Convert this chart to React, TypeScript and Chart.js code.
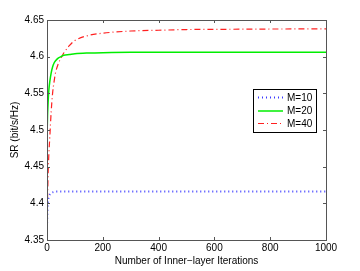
import React, { useEffect, useRef } from "react";
import { Chart, registerables } from "chart.js";

Chart.register(...registerables);

const iterations = [0, 1, 2, 3, 4, 5, 7, 10, 15, 20, 25, 30, 40, 50, 60, 80, 100, 150, 200, 300, 400, 500, 600, 700, 800, 900, 1000];
const srM10 = [4.368, 4.383, 4.393, 4.4, 4.404, 4.407, 4.41, 4.412, 4.414, 4.415, 4.4155, 4.416, 4.416, 4.416, 4.416, 4.416, 4.416, 4.416, 4.416, 4.416, 4.416, 4.416, 4.416, 4.416, 4.416, 4.416, 4.416];
const srM20 = [4.482, 4.505, 4.52, 4.53, 4.538, 4.545, 4.556, 4.566, 4.578, 4.586, 4.591, 4.594, 4.598, 4.6, 4.602, 4.603, 4.604, 4.605, 4.6055, 4.606, 4.606, 4.606, 4.606, 4.606, 4.606, 4.606, 4.606];
const srM40 = [4.37, 4.39, 4.41, 4.425, 4.44, 4.452, 4.47, 4.49, 4.525, 4.55, 4.565, 4.577, 4.59, 4.598, 4.605, 4.615, 4.622, 4.629, 4.632, 4.635, 4.636, 4.637, 4.6372, 4.6375, 4.6377, 4.6378, 4.638];
const seriesLabels = ["M=10", "M=20", "M=40"];
const xTicks = [0, 200, 400, 600, 800, 1000];
const yTicks = [4.35, 4.4, 4.45, 4.5, 4.55, 4.6, 4.65];

const FONT = "'Liberation Sans', Arial, sans-serif";

const boxPlugin = {
  id: "matlabBox",
  afterDraw(chart: any) {
    const { ctx, chartArea: a, scales } = chart;
    ctx.save();
    ctx.strokeStyle = "#555";
    ctx.lineWidth = 1;
    ctx.setLineDash([]);
    ctx.strokeRect(a.left + 0.5, a.top + 0.5, a.right - a.left, a.bottom - a.top);
    const tl = 3;
    ctx.beginPath();
    for (const t of xTicks) {
      const x = Math.round(scales.x.getPixelForValue(t)) + 0.5;
      ctx.moveTo(x, a.bottom);
      ctx.lineTo(x, a.bottom - tl);
      ctx.moveTo(x, a.top);
      ctx.lineTo(x, a.top + tl);
    }
    for (const t of yTicks) {
      const y = Math.round(scales.y.getPixelForValue(t)) + 0.5;
      ctx.moveTo(a.left, y);
      ctx.lineTo(a.left + tl, y);
      ctx.moveTo(a.right, y);
      ctx.lineTo(a.right - tl, y);
    }
    ctx.stroke();

    // legend
    const lx = 253, ly = 89, lw = 63, lh = 43;
    ctx.fillStyle = "#fff";
    ctx.fillRect(lx, ly, lw, lh);
    ctx.strokeStyle = "#000";
    ctx.strokeRect(lx + 0.5, ly + 0.5, lw, lh);
    const rows = [97.5, 111, 123.5];
    chart.data.datasets.forEach((ds: any, i: number) => {
      ctx.strokeStyle = ds.borderColor;
      ctx.lineWidth = ds.borderWidth;
      ctx.setLineDash(ds.borderDash || []);
      ctx.beginPath();
      ctx.moveTo(258, rows[i]);
      ctx.lineTo(283, rows[i]);
      ctx.stroke();
      ctx.setLineDash([]);
      ctx.fillStyle = "#000";
      ctx.font = `10px ${FONT}`;
      ctx.textBaseline = "middle";
      ctx.textAlign = "left";
      ctx.fillText(ds.label, 287, rows[i] + 0.5);
    });
    ctx.restore();
  },
};

export default function App() {
  const ref = useRef<HTMLCanvasElement>(null);
  useEffect(() => {
    const mk = (ys: number[]) => iterations.map((x, i) => ({ x, y: ys[i] }));
    const chart = new Chart(ref.current!, {
      type: "line",
      data: {
        datasets: [
          { label: seriesLabels[0], data: mk(srM10), borderColor: "#3b3bff", borderWidth: 2, borderDash: [1, 3], pointRadius: 0, cubicInterpolationMode: "monotone", fill: false },
          { label: seriesLabels[1], data: mk(srM20), borderColor: "#00ee00", borderWidth: 1.5, pointRadius: 0, cubicInterpolationMode: "monotone", fill: false },
          { label: seriesLabels[2], data: mk(srM40), borderColor: "#ff2020", borderWidth: 1.2, borderDash: [6, 3, 1, 3], pointRadius: 0, cubicInterpolationMode: "monotone", fill: false },
        ],
      },
      options: {
        animation: false,
        responsive: true,
        maintainAspectRatio: false,
        layout: { padding: { left: 0, top: 20, right: 34, bottom: 0 } },
        plugins: { legend: { display: false }, tooltip: { enabled: false } },
        scales: {
          x: {
            type: "linear",
            min: 0,
            max: 1000,
            afterBuildTicks: (s: any) => { s.ticks = xTicks.map((v) => ({ value: v })); },
            afterFit: (s: any) => { s.height = 31; },
            grid: { display: false, drawTicks: false },
            border: { display: false },
            ticks: { color: "#000", font: { family: FONT, size: 10 }, padding: 2, maxRotation: 0, callback: (v: any) => String(v) },
            title: { display: true, text: "Number of Inner−layer Iterations", color: "#000", font: { family: FONT, size: 10 }, padding: { top: 0, bottom: 4 } },
          },
          y: {
            type: "linear",
            min: 4.35,
            max: 4.65,
            afterBuildTicks: (s: any) => { s.ticks = yTicks.map((v) => ({ value: v })); },
            afterFit: (s: any) => { s.width = 47; },
            grid: { display: false, drawTicks: false },
            border: { display: false },
            ticks: { color: "#000", font: { family: FONT, size: 10 }, padding: 3, callback: (v: any) => String(Number(Number(v).toFixed(2))) },
            title: { display: true, text: "SR (bit/s/Hz)", color: "#000", font: { family: FONT, size: 10 }, padding: { top: 9, bottom: 0 } },
          },
        },
      },
      plugins: [boxPlugin],
    } as any);
    return () => chart.destroy();
  }, []);
  return (
    <div style={{ position: "absolute", left: 0, top: 0, width: 360, height: 271, background: "#fff" }}>
      <canvas ref={ref} />
    </div>
  );
}
